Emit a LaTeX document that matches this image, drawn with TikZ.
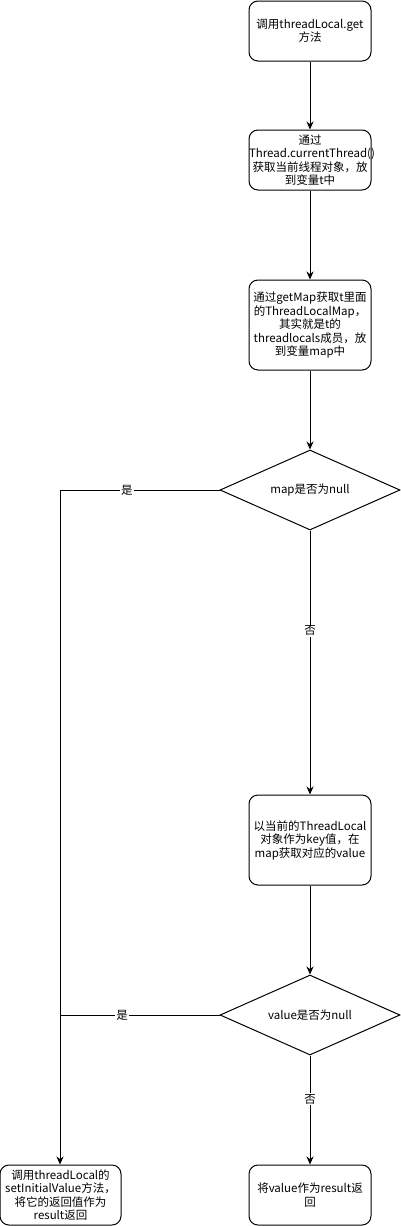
\documentclass[tikz,border=0pt]{standalone}
\usepackage{fontspec}
\setmainfont{Noto Sans CJK SC}
\usetikzlibrary{shapes.geometric,arrows.meta}
\begin{document}
\begin{tikzpicture}[x=1pt,y=-1pt,
  every node/.style={font=\fontsize{11.5}{13.5}\selectfont, align=center, inner sep=0pt},
  stepbox/.style={draw, line width=1pt, rounded corners=9pt, minimum width=120pt, text width=122pt},
  decision/.style={draw, line width=1pt, diamond, shape aspect=2.25, minimum width=180pt, minimum height=80pt},
  conn/.style={line width=1pt, -{Stealth[length=8pt,width=7pt]}},
  lbl/.style={fill=white, inner sep=1pt}]
\useasboundingbox (0,0) rectangle (401,1226);
\node[stepbox, minimum height=60pt] (b1) at (310,31) {调用threadLocal.get\\方法};
\node[stepbox, minimum height=60pt] (b2) at (310,160) {通过\\Thread.currentThread()\\获取当前线程对象，放\\到变量t中};
\node[stepbox, minimum height=90pt] (b3) at (310,325) {通过getMap获取t里面\\的ThreadLocalMap，\\其实就是t的\\threadlocals成员，放\\到变量map中};
\node[decision] (d1) at (310,490) {map是否为null};
\node[stepbox, minimum height=90pt] (b4) at (310,840) {以当前的ThreadLocal\\对象作为key值，在\\map获取对应的value};
\node[decision] (d2) at (310,1015) {value是否为null};
\node[stepbox, minimum width=119pt, text width=121pt, minimum height=60pt] (b5) at (60.5,1195) {调用threadLocal的\\setInitialValue方法，\\将它的返回值作为\\result返回};
\node[stepbox, minimum height=60pt] (b6) at (310,1195) {将value作为result返\\回};
\coordinate (c1) at (60,490);
\coordinate (c2) at (60,1015);
\draw[conn] (b1) -- (b2);
\draw[conn] (b2) -- (b3);
\draw[conn] (b3) -- (d1);
\draw[conn] (d1) -- node[lbl, pos=0.38] {否} (b4);
\draw[conn] (b4) -- (d2);
\draw[conn] (d2) -- node[lbl, pos=0.4] {否} (b6);
\draw[conn] (d1.west) -- node[lbl, pos=0.58] {是} (c1) -- (b5.north -| c1);
\draw[line width=1pt] (d2.west) -- node[lbl, pos=0.61] {是} (c2);
\end{tikzpicture}
\end{document}
